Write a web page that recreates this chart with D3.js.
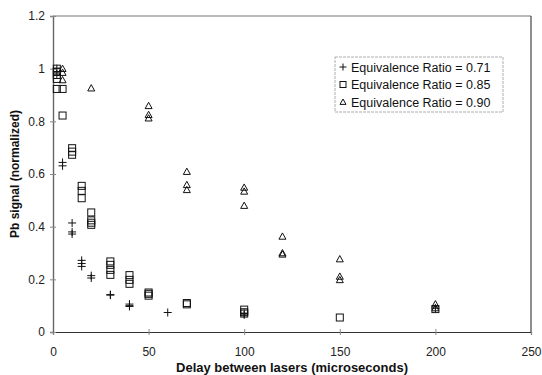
<!DOCTYPE html>
<html>
<head>
<meta charset="utf-8">
<script src="https://cdn.jsdelivr.net/npm/d3@7"></script>
<style>
  body { margin: 0; background: #fff; }
  svg { font-family: "Liberation Sans", Arial, sans-serif; }
</style>
</head>
<body>
<div id="chart"></div>
<script>
// delay (microseconds) / normalized Pb signal, one array pair per series
var phi071X = [2, 2, 5, 5, 10, 10, 10, 15, 15, 15, 20, 20, 30, 30, 40, 40, 40, 60, 100, 100, 200];
var phi071Y = [1.0, 0.98, 0.644, 0.631, 0.414, 0.38, 0.372, 0.272, 0.26, 0.249, 0.214, 0.205, 0.142, 0.14, 0.106, 0.1, 0.097, 0.074, 0.07, 0.065, 0.09];

var phi085X = [2, 2, 2, 2, 2, 5, 5, 10, 10, 10, 15, 15, 15, 20, 20, 20, 20, 30, 30, 30, 30, 40, 40, 40, 50, 50, 50, 70, 70, 100, 100, 100, 150, 200];
var phi085Y = [1.0, 0.989, 0.976, 0.961, 0.923, 0.923, 0.822, 0.698, 0.685, 0.673, 0.555, 0.536, 0.508, 0.454, 0.424, 0.415, 0.407, 0.268, 0.255, 0.236, 0.217, 0.216, 0.198, 0.183, 0.15, 0.145, 0.138, 0.11, 0.105, 0.085, 0.075, 0.07, 0.055, 0.087];

var phi090X = [5, 5, 5, 20, 50, 50, 50, 70, 70, 70, 100, 100, 100, 120, 120, 120, 150, 150, 150, 200, 200];
var phi090Y = [1.0, 0.985, 0.957, 0.926, 0.859, 0.825, 0.812, 0.609, 0.559, 0.54, 0.549, 0.534, 0.48, 0.363, 0.3, 0.295, 0.277, 0.211, 0.198, 0.106, 0.091];

var seriesNames = ['Equivalence Ratio = 0.71', 'Equivalence Ratio = 0.85', 'Equivalence Ratio = 0.90'];
var seriesShapes = ['plus', 'square', 'triangle'];
var xTicks = [0, 50, 100, 150, 200, 250];
var yTicks = [0, 0.2, 0.4, 0.6, 0.8, 1, 1.2];

var width = 542, height = 375;
var margin = {top: 16, right: 11, bottom: 43, left: 53};
var innerW = width - margin.left - margin.right;
var innerH = height - margin.top - margin.bottom;

var svg = d3.select('#chart').append('svg')
  .attr('width', width)
  .attr('height', height);

var g = svg.append('g')
  .attr('transform', 'translate(' + margin.left + ',' + margin.top + ')');

var x = d3.scaleLinear().domain([0, 250]).range([0, innerW]);
var y = d3.scaleLinear().domain([0, 1.2]).range([innerH, 0]);

// frame (top + right)
g.append('line').attr('x1', 0).attr('x2', innerW).attr('y1', 0).attr('y2', 0)
  .attr('stroke', '#777').attr('stroke-width', 1.2);
g.append('line').attr('x1', innerW).attr('x2', innerW).attr('y1', 0).attr('y2', innerH)
  .attr('stroke', '#444').attr('stroke-width', 1.2);

// axes with ticks crossing the axis line
var xAxis = g.append('g')
  .attr('transform', 'translate(0,' + innerH + ')')
  .call(d3.axisBottom(x).tickValues(xTicks).tickSize(3).tickPadding(12).tickFormat(d3.format('d')));
xAxis.selectAll('.tick line').attr('y1', -3).attr('stroke', '#888');
xAxis.select('.domain').attr('stroke', '#333').attr('stroke-width', 1.2);

var yAxis = g.append('g')
  .call(d3.axisLeft(y).tickValues(yTicks).tickSize(3).tickPadding(5).tickFormat(function (d) { return d === 0 || d === 1 ? d3.format('d')(d) : d3.format('.1f')(d); }));
yAxis.selectAll('.tick line').attr('x1', 3).attr('stroke', '#888');
yAxis.select('.domain').attr('stroke', '#666').attr('stroke-width', 1.4);

svg.selectAll('.tick text')
  .attr('font-family', '"Liberation Sans", Arial, sans-serif')
  .attr('font-size', 12)
  .attr('fill', '#222');

// axis titles
svg.append('text')
  .attr('x', margin.left + innerW / 2)
  .attr('y', 372)
  .attr('text-anchor', 'middle')
  .attr('font-weight', 'bold')
  .attr('font-size', 13)
  .attr('fill', '#111')
  .text('Delay between lasers (microseconds)');

svg.append('text')
  .attr('transform', 'translate(19,' + (margin.top + innerH / 2) + ') rotate(-90)')
  .attr('text-anchor', 'middle')
  .attr('font-weight', 'bold')
  .attr('font-size', 12)
  .attr('fill', '#111')
  .text('Pb signal (normalized)');

function drawMarker(sel, shape, s) {
  if (shape === 'plus') {
    sel.append('path').attr('d', 'M' + (-s) + ',0H' + s + 'M0,' + (-s) + 'V' + s)
      .attr('stroke', '#111').attr('stroke-width', 1).attr('fill', 'none');
  } else if (shape === 'square') {
    sel.append('rect').attr('x', -s).attr('y', -s).attr('width', 2 * s).attr('height', 2 * s)
      .attr('stroke', '#111').attr('stroke-width', 1).attr('fill', 'none');
  } else {
    sel.append('path').attr('d', 'M0,' + (-s) + 'L' + s + ',' + (s * 0.8) + 'L' + (-s) + ',' + (s * 0.8) + 'Z')
      .attr('stroke', '#111').attr('stroke-width', 1).attr('fill', 'none');
  }
}

var series = [
  {xs: phi071X, ys: phi071Y},
  {xs: phi085X, ys: phi085Y},
  {xs: phi090X, ys: phi090Y}
];

series.forEach(function (s, i) {
  var pts = s.xs.map(function (d, j) { return [d, s.ys[j]]; });
  g.append('g').selectAll('g')
    .data(pts)
    .enter().append('g')
    .attr('transform', function (d) { return 'translate(' + x(d[0]) + ',' + y(d[1]) + ')'; })
    .each(function () { drawMarker(d3.select(this), seriesShapes[i], i === 0 ? 4 : 3.5); });
});

// legend
var lg = svg.append('g').attr('transform', 'translate(335,57)');
lg.append('rect').attr('width', 168).attr('height', 55)
  .attr('fill', '#fff').attr('stroke', '#999').attr('stroke-width', 0.8).attr('stroke-dasharray', '3,1');
seriesNames.forEach(function (name, i) {
  var row = lg.append('g').attr('transform', 'translate(0,' + (10 + i * 17.5) + ')');
  var m = row.append('g').attr('transform', 'translate(8,0)');
  drawMarker(m, seriesShapes[i], i === 0 ? 3.5 : 3);
  row.append('text').attr('x', 16).attr('y', 4.5)
    .attr('font-size', 12.5).attr('fill', '#111').text(name);
});
</script>
</body>
</html>
